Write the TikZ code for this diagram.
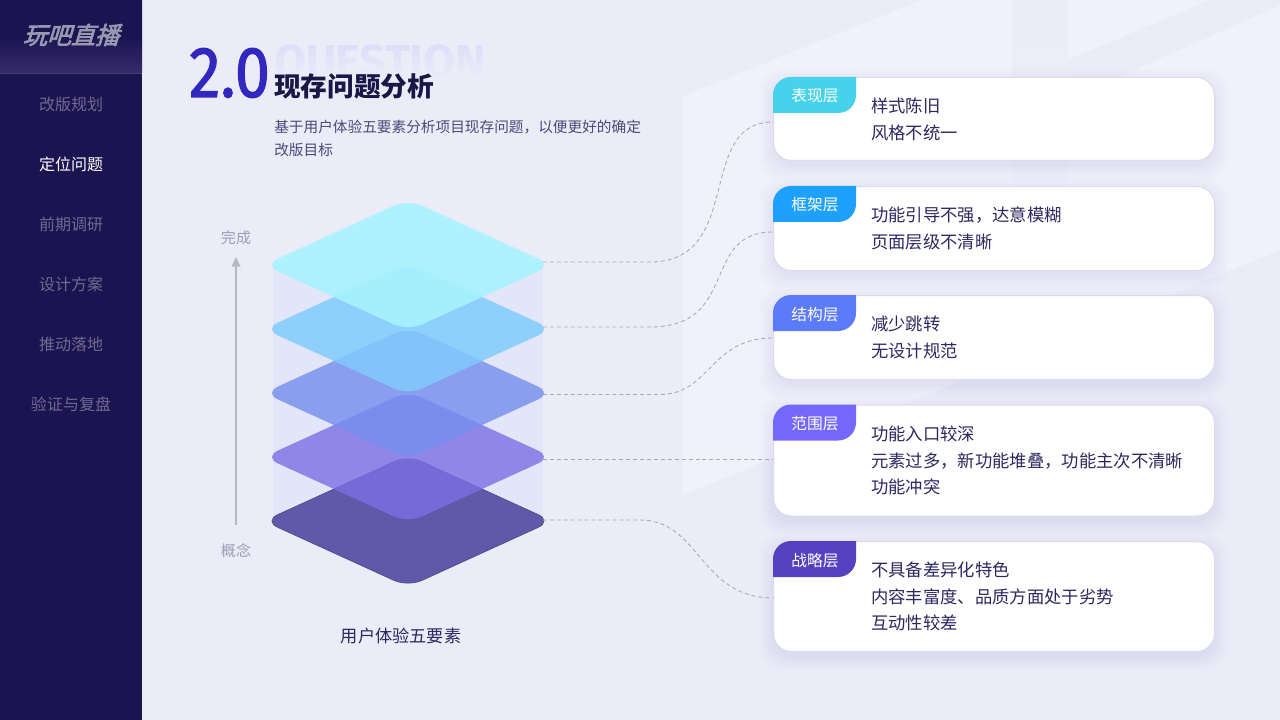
\documentclass[tikz,border=0pt]{standalone}
\usepackage{fontspec}
\setmainfont{Noto Sans CJK SC}
\newfontfamily\logofont[FakeSlant=0.3,FakeBold=3]{Noto Sans CJK SC}
\newfontfamily\numfont[FakeBold=1.6]{Fira Sans}
\newfontfamily\qfont{Fira Sans}
\usetikzlibrary{fadings,calc}
\definecolor{bgA}{HTML}{ECECF8}
\definecolor{bgB}{HTML}{F1F1FB}
\definecolor{side}{HTML}{1C1450}
\definecolor{sideB}{HTML}{352C6A}
\definecolor{ink}{HTML}{2D2860}
\definecolor{sidetxt}{HTML}{6F6A8F}
\definecolor{logoc}{HTML}{9A97B2}
\definecolor{lbl}{HTML}{9F9DB5}
\definecolor{dashc}{HTML}{A9A8B4}
\definecolor{cardedge}{HTML}{DCDAEC}
\definecolor{hull}{HTML}{E3E6F9}
\definecolor{cA}{HTML}{A7F3FF}
\definecolor{cB}{HTML}{81CBFD}
\definecolor{cC}{HTML}{768FEE}
\definecolor{cD}{HTML}{7B70E4}
\definecolor{cE}{HTML}{6058A8}
\definecolor{tA}{HTML}{45D2EA}
\definecolor{tB}{HTML}{1EA0FF}
\definecolor{tC}{HTML}{5B7BFA}
\definecolor{tD}{HTML}{7468FB}
\definecolor{tE}{HTML}{5540BF}
\definecolor{numc}{HTML}{3228C0}
\definecolor{titlec}{HTML}{1B1646}
\definecolor{arrc}{HTML}{B8B8C0}
\definecolor{shadowc}{HTML}{5A50A0}
\tikzset{
  navitem/.style={font=\fontsize{12}{14}\selectfont,text=sidetxt,anchor=center,inner sep=0pt},
  cardbox/.style={draw=cardedge,line width=.75pt,fill=white,rounded corners=13.5pt,anchor=north west,inner sep=0pt},
  cardtxt/.style={font=\fontsize{13}{20}\selectfont,text=ink,anchor=north west,align=left,inner sep=0pt},
  tagtxt/.style={font=\fontsize{11.8}{14}\selectfont,text=white,anchor=center,inner sep=0pt},
  link/.style={draw=dashc,line width=.65pt,dash pattern=on 3pt off 2.2pt},
  layer/.style={rounded corners=11.5pt},
  sidelbl/.style={font=\fontsize{11.3}{14}\selectfont,text=lbl,inner sep=0pt},
}
\tikzfading[name=fadeq,top color=transparent!100,bottom color=transparent!0]
\tikzfading[name=fadeb,top color=transparent!0,bottom color=transparent!100]
\newcommand\cardnode[3]{%
  \foreach \g in {0,2,...,14}{\fill[shadowc,fill opacity=.006,rounded corners=16pt] (773-\g,#2-\g+6) rectangle (1214+\g,#2+#3+\g+6);}
  \node[cardbox,minimum width=330.75pt,minimum height=#3*.75pt] (#1) at (773,#2) {};}
\newcommand\tagshape[2]{\fill[#1] (773,#2+36) -- (773,#2+18) arc[start angle=180,end angle=90,radius=13.5pt] -- (856,#2) -- (856,#2+18) arc[start angle=0,end angle=-90,radius=13.5pt] -- cycle;}
\begin{document}
\begin{tikzpicture}[x=.75pt,y=-.75pt]
\useasboundingbox (0,0) rectangle (1280,720);
% background
\fill[bgA] (0,0) rectangle (1280,720);
\fill[bgB] (683,96) -- (922,0) -- (1280,0) -- (1280,250) -- (683,495) -- cycle;
\fill[bgA,path fading=fadeb] (1012,0) rectangle (1068,240);
\fill[bgA] (1068,60) -- (1210,0) -- (1280,0) -- (1280,5) -- (1090,90) -- (1068,90) -- cycle;
% sidebar
\fill[side] (0,0) rectangle (142,720);
\shade[top color=side,bottom color=sideB,middle color=side] (0,0) rectangle (142,73);
\fill[sideB!92!white] (0,72.6) rectangle (142,73.2);
\node[font=\logofont\fontsize{18}{20}\selectfont,text=logoc,inner sep=0pt] (logo) at (71,35) {玩吧直播};
\node[navitem] (n1) at (71,104) {改版规划};
\node[navitem,text=white] (n2) at (71,164) {定位问题};
\node[navitem] (n3) at (71,224) {前期调研};
\node[navitem] (n4) at (71,284) {设计方案};
\node[navitem] (n5) at (71,344) {推动落地};
\node[navitem] (n6) at (71,404) {验证与复盘};
% header
\node[font=\qfont\bfseries\fontsize{34.5}{35}\selectfont,text=bgA!88!tD,anchor=west,inner sep=0pt] (q) at (274,65) {QUESTION};
\fill[bgA,path fading=fadeq] (270,42) rectangle (490,78);
\node[font=\numfont\fontsize{54}{54}\selectfont,text=numc,anchor=base west,inner sep=0pt] (num) at (189,97) {\scalebox{.875}[1]{2.0}};
\node[font=\bfseries\fontsize{20}{22}\selectfont,text=titlec,anchor=west,inner sep=0pt] (title) at (274,86) {现存问题分析};
\node[font=\fontsize{11}{17.2}\selectfont,text=ink!85,anchor=north west,align=left,inner sep=0pt] (sub) at (274,120) {基于用户体验五要素分析项目现存问题，以便更好的确定\\改版目标};
% hull
\fill[hull] (273,265) rectangle (543,521);
% layers
\coordinate (a) at (408,265);
\coordinate (b) at (408,329);
\coordinate (c) at (408,393);
\coordinate (d) at (408,457);
\coordinate (e) at (408,521);
\def\layershape#1{($(#1)+(0,-65.8)$) -- ($(#1)+(144.2,0)$) -- ($(#1)+(0,65.8)$) -- ($(#1)+(-144.2,0)$) -- cycle}
\fill[cE,layer,draw=cE!85!black,line width=.5pt] \layershape{e};
\fill[cD,layer,fill opacity=.8] \layershape{d};
\fill[cC,layer,fill opacity=.82] \layershape{c};
\fill[cB,layer,fill opacity=.85] \layershape{b};
\fill[cA,layer,fill opacity=.89] \layershape{a};
% arrow
\coordinate (arrS) at (236,525);
\coordinate (arrE) at (236,257);
\draw[draw=arrc,line width=.9pt] (arrS) -- (236,266);
\fill[arrc] (arrE) -- (240.5,266.5) -- (231.5,266.5) -- cycle;
\node[sidelbl] (top) at (236,238) {完成};
\node[sidelbl] (bot) at (236,551) {概念};
\node[font=\fontsize{12.9}{15}\selectfont,text=ink,inner sep=0pt] (cap) at (401,636) {用户体验五要素};
% connectors
\coordinate (p1) at (543,262);
\coordinate (p2) at (543,327);
\coordinate (p3) at (543,394.5);
\coordinate (p4) at (543,459.5);
\coordinate (p5) at (543,520);
% cards
\cardnode{k1}{77}{83}
\cardnode{k2}{186}{84}
\cardnode{k3}{295}{84}
\cardnode{k4}{404.5}{111}
\cardnode{k5}{541}{110}
\tagshape{tA}{77}
\tagshape{tB}{186}
\tagshape{tC}{295}
\tagshape{tD}{404.5}
\tagshape{tE}{541}
\node[tagtxt] (t1) at (815,95.5) {表现层};
\node[tagtxt] (t2) at (815,204.5) {框架层};
\node[tagtxt] (t3) at (815,314.5) {结构层};
\node[tagtxt] (t4) at (815,423.5) {范围层};
\node[tagtxt] (t5) at (815,560.5) {战略层};
\node[cardtxt] (x1) at (871,97.5) {样式陈旧\\风格不统一};
\node[cardtxt] (x2) at (871,206.5) {功能引导不强，达意模糊\\页面层级不清晰};
\node[cardtxt] (x3) at (871,315.5) {减少跳转\\无设计规范};
\node[cardtxt] (x4) at (871,425.5) {功能入口较深\\元素过多，新功能堆叠，功能主次不清晰\\功能冲突};
\node[cardtxt] (x5) at (871,561.5) {不具备差异化特色\\内容丰富度、品质方面处于劣势\\互动性较差};
\path[link] (p1) -- (650,262) .. controls (745,262) and (695,122) .. (k1.west |- 773,122);
\path[link] (p2) -- (650,327) .. controls (740,327) and (700,232) .. (k2.west |- 773,232);
\path[link] (p3) -- (660,394.5) .. controls (710,394.5) and (710,338) .. (k3.west |- 773,338);
\path[link] (p4) -- (k4.west |- p4);
\path[link] (p5) -- (640,520) .. controls (700,520) and (700,598) .. (k5.west |- 773,598);
\end{tikzpicture}
\end{document}
